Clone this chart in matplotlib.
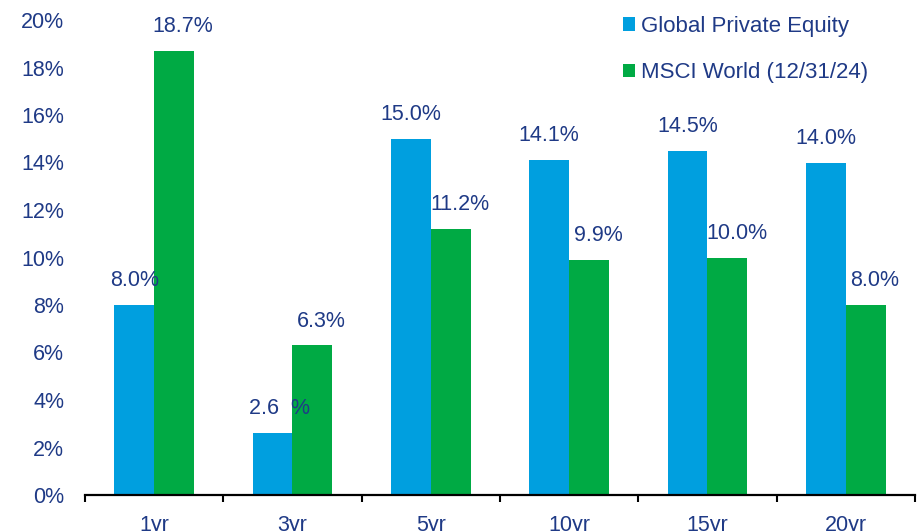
import matplotlib
matplotlib.use("Agg")
import matplotlib.pyplot as plt
import numpy as np
from matplotlib.patches import Patch
from matplotlib.ticker import FixedLocator, PercentFormatter

plt.rcParams['font.family'] = ['Liberation Sans', 'DejaVu Sans']

categories = ["1yr", "3yr", "5yr", "10yr", "15yr", "20yr"]
private_equity = [8.0, 2.6, 15.0, 14.1, 14.5, 14.0]
msci_world = [18.7, 6.3, 11.2, 9.9, 10.0, 8.0]
pe_labels = ["8.0%", "2.6  %", "15.0%", "14.1%", "14.5%", "14.0%"]
msci_labels = ["18.7%", "6.3%", "11.2%", "9.9%", "10.0%", "8.0%"]
series_names = ["Global Private Equity", "MSCI World (12/31/24)"]

BLUE = "#009FDF"
GREEN = "#00AA44"
TEXT = "#1F3A86"

fig = plt.figure(figsize=(9.2, 5.31), dpi=100)
ax = fig.add_axes([85 / 920, 36 / 531, 830 / 920, 475 / 531])

x = np.arange(len(categories))
w = 0.289
ax.bar(x - w / 2, private_equity, w, color=BLUE, zorder=2)
ax.bar(x + w / 2, msci_world, w, color=GREEN, zorder=2)

for xi, v, lab in zip(x, private_equity, pe_labels):
    dx = 5 if "  " in lab else 0
    ax.annotate(lab, (xi - w / 2, v), xytext=(dx, 17.5), textcoords="offset points",
                ha="center", va="center", fontsize=15.5, color=TEXT, zorder=3)
for xi, v, lab in zip(x, msci_world, msci_labels):
    ax.annotate(lab, (xi + w / 2, v), xytext=(6.5, 17.5), textcoords="offset points",
                ha="center", va="center", fontsize=15.5, color=TEXT, zorder=3)

ax.set_xlim(-0.5, len(categories) - 0.5)
ax.set_ylim(0, 20)
ax.set_yticks(np.arange(0, 21, 2))
ax.yaxis.set_major_formatter(PercentFormatter(decimals=0))
ax.set_xticks(x)
ax.set_xticklabels(categories)
ax.xaxis.set_minor_locator(FixedLocator(np.arange(-0.5, len(categories), 1.0)))

for s in ["top", "right", "left"]:
    ax.spines[s].set_visible(False)
ax.spines["bottom"].set_color("black")
ax.spines["bottom"].set_linewidth(1.6)
ax.spines["bottom"].set_zorder(4)

ax.tick_params(axis="x", which="major", length=0, pad=14.5, labelsize=15.5, labelcolor=TEXT)
ax.tick_params(axis="x", which="minor", length=5, width=1.5, color="black", direction="out")
ax.tick_params(axis="y", length=0, pad=15, labelsize=15.5, labelcolor=TEXT)

handles = [Patch(facecolor=BLUE), Patch(facecolor=GREEN)]
fig.legend(handles, series_names, loc="upper left", bbox_to_anchor=(614 / 920, 1 - 7 / 531),
           frameon=False, fontsize=16, labelcolor=TEXT, handlelength=0.53,
           handleheight=0.53, handletextpad=0.3, labelspacing=1.15, borderaxespad=0)

fig.savefig("out.png", dpi=100)
